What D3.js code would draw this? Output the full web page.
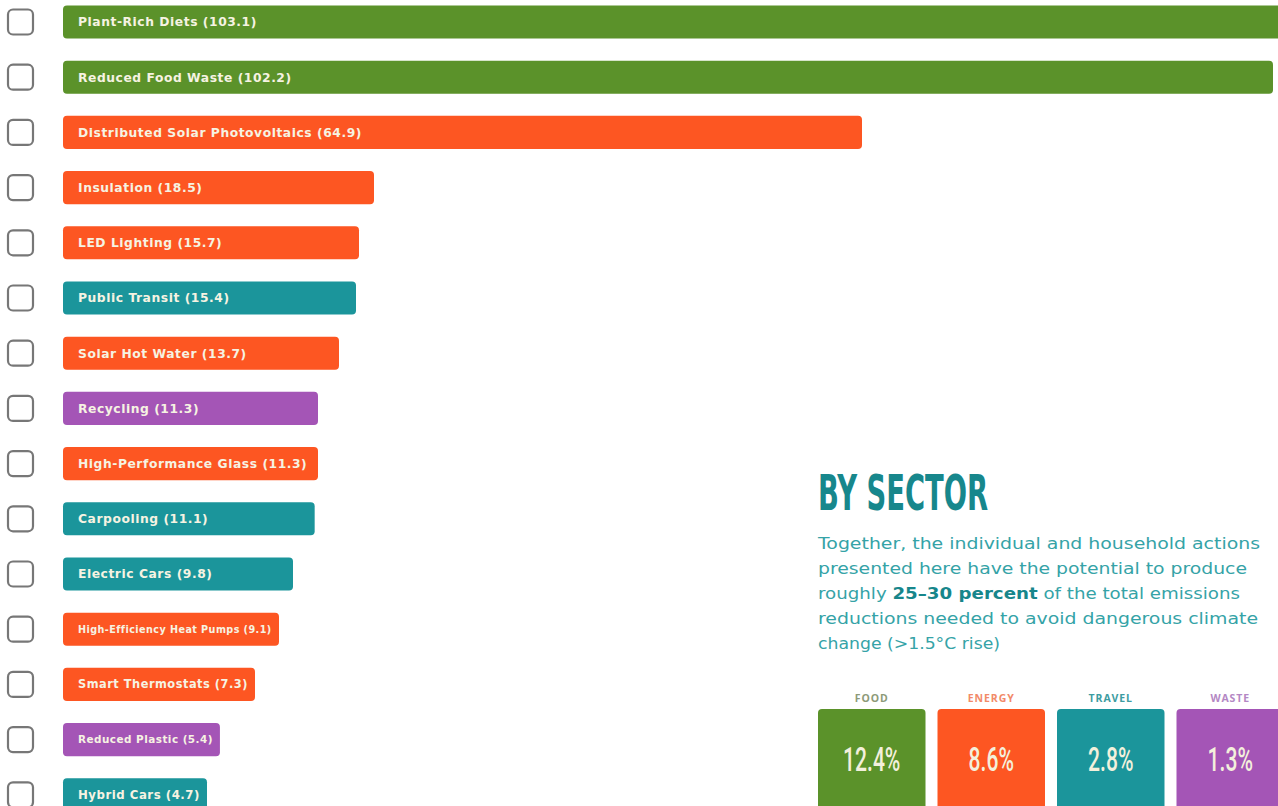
<!DOCTYPE html>
<html><head><meta charset="utf-8">
<script src="https://cdn.jsdelivr.net/npm/d3@7"></script>
<style>
html,body{margin:0;padding:0;background:#ffffff;}
svg{display:block;}
</style></head>
<body>
<svg id="chart" width="1278" height="806"></svg>
<script>
const actions = ["Plant-Rich Diets","Reduced Food Waste","Distributed Solar Photovoltaics","Insulation","LED Lighting","Public Transit","Solar Hot Water","Recycling","High-Performance Glass","Carpooling","Electric Cars","High-Efficiency Heat Pumps","Smart Thermostats","Reduced Plastic","Hybrid Cars"];
const actionValues = [103.1,102.2,64.9,18.5,15.7,15.4,13.7,11.3,11.3,11.1,9.8,9.1,7.3,5.4,4.7];
const actionSectors = ["Food","Food","Energy","Energy","Energy","Travel","Energy","Waste","Energy","Travel","Travel","Energy","Energy","Waste","Travel"];
const sectors = ["FOOD","ENERGY","TRAVEL","WASTE"];
const sectorShares = [12.4,8.6,2.8,1.3];
const headline = "BY SECTOR";
const paragraphLines = [
  [["Together, the individual and household actions",false]],
  [["presented here have the potential to produce",false]],
  [["roughly ",false],["25–30 percent",true],[" of the total emissions",false]],
  [["reductions needed to avoid dangerous climate",false]],
  [["change (>1.5°C rise)",false]]
];

const color = d3.scaleOrdinal().domain(["Food","Energy","Travel","Waste"]).range(["#5b922a","#fd5622","#1b959b","#a455b6"]);
const labelColor = d3.scaleOrdinal().domain(sectors).range(["#8d9a78","#f28a68","#3d9ca1","#b487c4"]);

const svg = d3.select("#chart");
const rows = actions.map((a,i)=>({name:a,value:actionValues[i],sector:actionSectors[i]}));

const x0 = 63;
// bar length scale (the infographic's bars are not strictly proportional; piecewise-linear fit)
const w = d3.scaleLinear()
  .domain([4.7,7.3,9.1,9.8,11.3,13.7,15.7,18.5,64.9,102.2])
  .range([144,192,216,230,255,276,296,311,799,1210]);
const y = d3.scaleBand().domain(actions).range([-5.6, -5.6 + 55.2*actions.length]).paddingInner(0.4).paddingOuter(0.2);

const g = svg.append("g");
const row = g.selectAll("g.row").data(rows).join("g").attr("class","row");

row.append("rect")
  .attr("x",8).attr("width",25).attr("height",25)
  .attr("y",d=>y(d.name)+y.bandwidth()/2-12.5)
  .attr("rx",5).attr("fill","#fff").attr("stroke","#777").attr("stroke-width",2.2);

row.append("rect")
  .attr("x",x0).attr("y",d=>y(d.name))
  .attr("width",d=>w(d.value)).attr("height",y.bandwidth())
  .attr("rx",4).attr("fill",d=>color(d.sector));

const baseFS = 12.3, baseLS = 0.55;
row.append("text")
  .attr("x",x0+15).attr("y",d=>y(d.name)+y.bandwidth()/2)
  .attr("dy","0.35em")
  .attr("fill","#f6f3e2")
  .style("font-family","'DejaVu Sans', sans-serif")
  .style("font-weight","700")
  .style("font-size",baseFS+"px")
  .style("letter-spacing",baseLS+"px")
  .text(d=>`${d.name} (${d.value})`)
  .each(function(d){
    const tw = this.getComputedTextLength();
    const avail = w(d.value) - 22;
    if (tw > avail) {
      const k = avail/tw;
      d3.select(this).style("font-size",(baseFS*k).toFixed(2)+"px").style("letter-spacing",(baseLS*k).toFixed(2)+"px");
    }
  });

// Right panel
const panel = svg.append("g");
panel.append("text")
  .attr("x",818).attr("y",510)
  .attr("fill","#17878c")
  .style("font-family","'Liberation Sans Narrow','DejaVu Sans Condensed',sans-serif")
  .style("font-weight","700").style("font-size","49px")
  .attr("textLength",170).attr("lengthAdjust","spacingAndGlyphs")
  .text(headline);

const lineWidths = [442,429,422,440,182];
const para = panel.append("g");
paragraphLines.forEach((line,i)=>{
  const t = para.append("text")
    .attr("x",818).attr("y",549+i*25)
    .attr("fill","#35a3a7")
    .style("font-family","'DejaVu Sans', sans-serif")
    .style("font-size","16px")
    .attr("textLength",lineWidths[i]).attr("lengthAdjust","spacingAndGlyphs");
  line.forEach(([s,b])=>{
    t.append("tspan").text(s)
      .attr("fill", b ? "#17868b" : "#35a3a7")
      .style("font-weight", b ? "700" : "400");
  });
});

const bx = d3.scaleBand().domain(sectors).range([818, 818+4*119.5-12]).paddingInner(12/119.5).paddingOuter(0);
const sg = panel.selectAll("g.sector").data(sectors.map((s,i)=>({s,v:sectorShares[i],c:["Food","Energy","Travel","Waste"][i]}))).join("g");
sg.append("text")
  .attr("x",d=>bx(d.s)+bx.bandwidth()/2).attr("y",702)
  .attr("text-anchor","middle")
  .attr("fill",d=>labelColor(d.s))
  .style("font-family","'Open Sans', sans-serif").style("font-weight","700")
  .style("font-size","10.5px").style("letter-spacing","0.9px")
  .text(d=>d.s);
sg.append("rect")
  .attr("x",d=>bx(d.s)).attr("y",709)
  .attr("width",bx.bandwidth()).attr("height",120)
  .attr("rx",4).attr("fill",d=>color(d.c));
sg.append("g")
  .attr("transform",d=>`translate(${bx(d.s)+bx.bandwidth()/2},771) scale(0.62,1)`)
  .append("text")
  .attr("text-anchor","middle")
  .attr("fill","#f3f0dc")
  .style("font-family","Roboto, sans-serif")
  .style("font-weight","500")
  .style("font-size","34px")
  .text(d=>d.v+"%");
</script>
</body></html>
